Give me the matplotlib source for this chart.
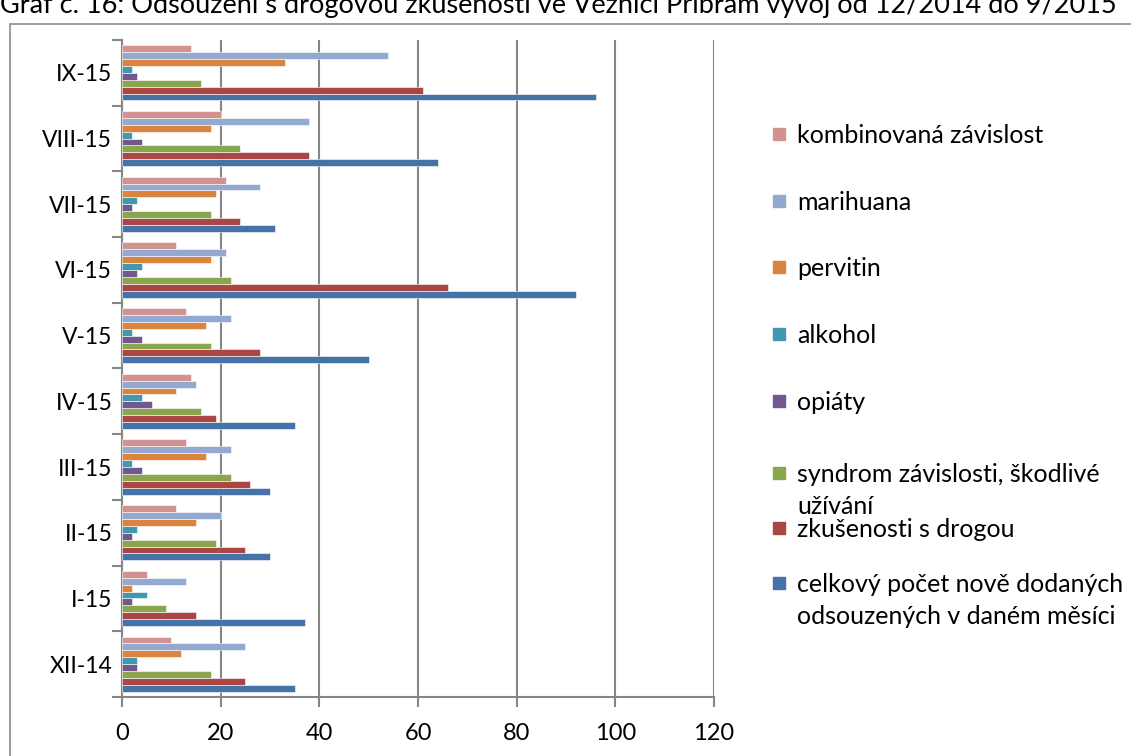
import numpy as np
import matplotlib
matplotlib.use("Agg")
import matplotlib.pyplot as plt
from matplotlib.patches import Rectangle

# kategorie (zdola nahoru)
mesice = ["XII-14", "I-15", "II-15", "III-15", "IV-15", "V-15", "VI-15", "VII-15", "VIII-15", "IX-15"]

# serie
celkovy = [35, 37, 30, 30, 35, 50, 92, 31, 64, 96]
zkusenosti = [25, 15, 25, 26, 19, 28, 66, 24, 38, 61]
syndrom = [18, 9, 19, 22, 16, 18, 22, 18, 24, 16]
opiaty = [3, 2, 2, 4, 6, 4, 3, 2, 4, 3]
alkohol = [3, 5, 3, 2, 4, 2, 4, 3, 2, 2]
pervitin = [12, 2, 15, 17, 11, 17, 18, 19, 18, 33]
marihuana = [25, 13, 20, 22, 15, 22, 21, 28, 38, 54]
kombinovana = [10, 5, 11, 13, 14, 13, 11, 21, 20, 14]

nazvy = ["celkový počet nově dodaných\nodsouzených v daném měsíci",
         "zkušenosti s drogou",
         "syndrom závislosti, škodlivé\nužívání",
         "opiáty", "alkohol", "pervitin", "marihuana",
         "kombinovaná závislost"]
barvy = ["#4572A7", "#AA4643", "#89A54E", "#71588F",
         "#4198AF", "#DB843D", "#93A9CF", "#D19392"]

serie = [celkovy, zkusenosti, syndrom, opiaty, alkohol, pervitin, marihuana, kombinovana]

plt.rcParams['font.family'] = ['Lato', 'DejaVu Sans']

W, H = 1131, 756
fig = plt.figure(figsize=(W / 100, H / 100), dpi=100)

# okraj grafu
fig.patches.append(Rectangle((10 / W, -0.1), 1.2, (H - 24) / H + 0.1,
                             transform=fig.transFigure, fill=False,
                             edgecolor="#8c8c8c", linewidth=1.2))

# titulek je v originale nahore oriznuty
fig.text(0.0, 1.0 - 5 / H, "Graf č. 16: Odsouzení s drogovou zkušeností ve Věznici Příbram vývoj od 12/2014 do 9/2015",
         fontsize=19.5, va="center", ha="left", color="black")

ax = fig.add_axes([122 / W, 1 - 697 / H, (714 - 122) / W, (697 - 40) / H])

y = np.arange(len(mesice))
n = len(serie)
skupina = 0.84
vyska = skupina / n
for i in range(n):
    pos = y - skupina / 2 + vyska * (i + 0.5)
    ax.barh(pos, serie[i], height=vyska, color=barvy[i], edgecolor="white",
            linewidth=0.4, zorder=3)

ax.set_xlim(0, 120)
ax.set_ylim(-0.5, len(mesice) - 0.5)
ax.set_xticks(range(0, 121, 20))
ax.set_yticks(y)
ax.set_yticklabels(mesice)
ax.set_yticks(np.arange(-0.5, len(mesice), 1), minor=True)
ax.tick_params(axis="y", which="major", length=0, pad=7, labelsize=16.5)
ax.tick_params(axis="y", which="minor", length=7, width=1.5, color="#868686")
ax.tick_params(axis="x", length=7, width=1.5, color="#868686", labelsize=17, pad=12)
ax.grid(axis="x", color="#868686", linewidth=1.5, zorder=0)
for s in ["top", "right"]:
    ax.spines[s].set_visible(False)
for s in ["left", "bottom"]:
    ax.spines[s].set_color("#868686")
    ax.spines[s].set_linewidth(1.5)

# legenda
leg_y = [134, 201, 267, 334, 401, 473, 528, 583]
for k, i in enumerate(range(n - 1, -1, -1)):
    yy = 1 - leg_y[k] / H
    fig.patches.append(Rectangle((773 / W, yy - 6 / H), 12 / W, 12 / H,
                                 transform=fig.transFigure, color=barvy[i]))
    fig.text(797 / W, yy + 10 / H, nazvy[i], fontsize=18, va="top", ha="left",
             linespacing=1.5)

fig.savefig("out.png", dpi=100)
